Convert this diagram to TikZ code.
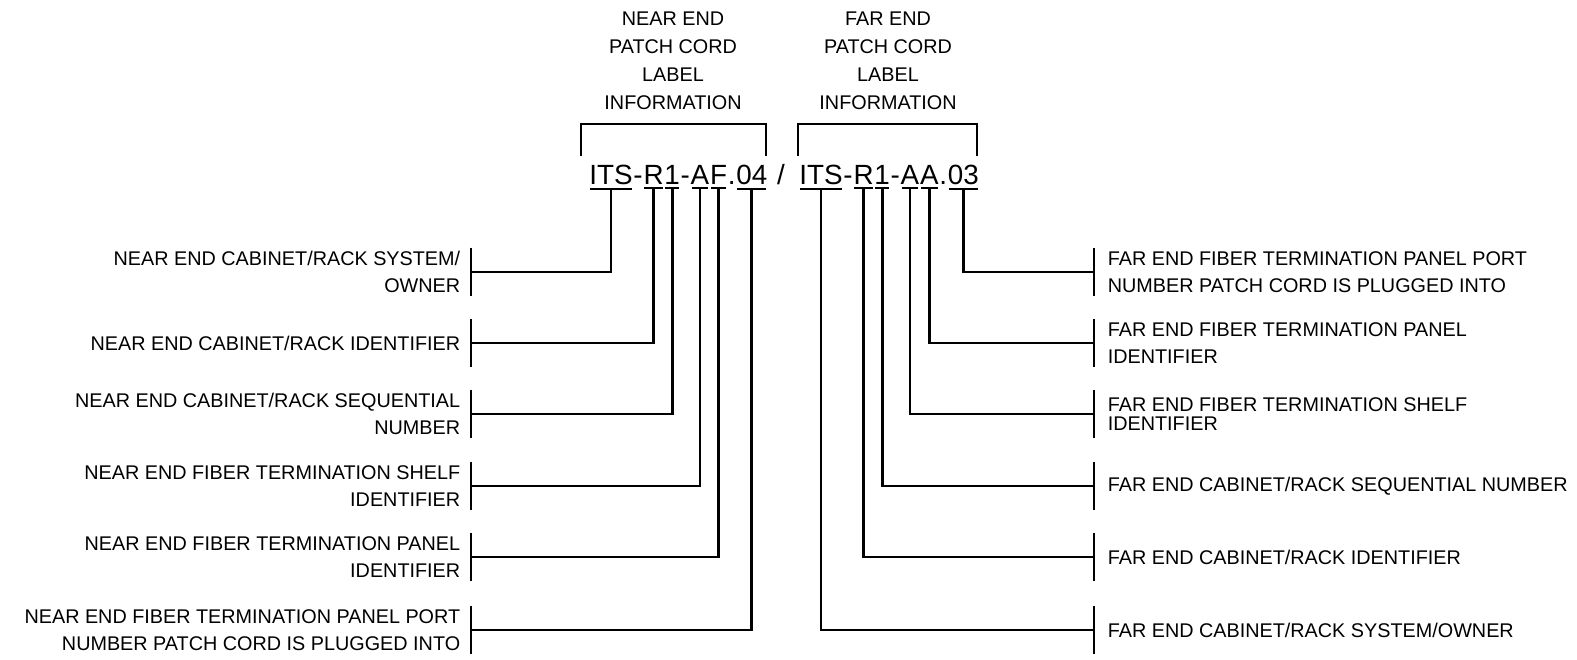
\documentclass[tikz,border=0pt]{standalone}
\usepackage{fontspec}
\setmainfont{Liberation Sans}
\usetikzlibrary{positioning}
\newcommand{\codefont}{\fontsize{13.9}{17}\selectfont}
\newcommand{\notefont}{\fontsize{9.9}{13.5}\selectfont}

\begin{document}
\begin{tikzpicture}[
    x=0.5pt, y=-0.5pt,
    seg/.style={inner sep=0pt, anchor=base west, font=\codefont},
    uline/.style={line width=1pt},
    wire/.style={line width=1.4pt},
    bar/.style={minimum height=24pt, minimum width=0pt, inner sep=0pt},
    leftnote/.style={anchor=east, align=right, inner sep=0pt, font=\notefont},
    rightnote/.style={anchor=west, align=left, inner sep=0pt, font=\notefont},
    head/.style={align=center, inner sep=0pt, font=\fontsize{9.9}{14}\selectfont}
]
\useasboundingbox (0,0) rectangle (1577,659);

% headings and brackets
\node[head] (hnear) at (673,61) {NEAR END\\PATCH CORD\\LABEL\\INFORMATION};
\node[head] (hfar) at (888,61) {FAR END\\PATCH CORD\\LABEL\\INFORMATION};
\draw[wire] (581,156) -- (581,124) -- (766,124) -- (766,156);
\draw[wire] (798,156) -- (798,124) -- (977,124) -- (977,156);

% near end label
\node[seg] (lits) at (589,184) {ITS};
\node[seg] (ld1) at (lits.base east) {-};
\node[seg] (lr) at (ld1.base east) {R};
\node[seg] (lone) at (lr.base east) {1};
\node[seg] (ld2) at (lone.base east) {-};
\node[seg] (la) at (ld2.base east) {A};
\node[seg] (lf) at (la.base east) {F};
\node[seg] (ldot) at (lf.base east) {.};
\node[seg] (lnum) at (ldot.base east) {04};
\node[seg, anchor=base] (slash) at (781,184) {/};
% far end label
\node[seg] (rits) at (799,184) {ITS};
\node[seg] (rd1) at (rits.base east) {-};
\node[seg] (rr) at (rd1.base east) {R};
\node[seg] (rone) at (rr.base east) {1};
\node[seg] (rd2) at (rone.base east) {-};
\node[seg] (ra1) at (rd2.base east) {A};
\node[seg] (ra2) at (ra1.base east) {A};
\node[seg] (rdot) at (ra2.base east) {.};
\node[seg] (rnum) at (rdot.base east) {03};

\foreach \n in {lits,lr,lone,la,lf,lnum,rits,rr,rone,ra1,ra2,rnum}
  \draw[uline] ([xshift=0.6pt,yshift=-2pt]\n.south west) -- ([xshift=-0.6pt,yshift=-2pt]\n.south east);

% near end notes
\node[bar] (lb1) at (471,272) {};
\node[bar] (lb2) at (471,343) {};
\node[bar] (lb3) at (471,414) {};
\node[bar] (lb4) at (471,486) {};
\node[bar] (lb5) at (471,557) {};
\node[bar] (lb6) at (471,630) {};
\node[leftnote, left=5pt of lb1] {NEAR END CABINET/RACK SYSTEM/\\OWNER};
\node[leftnote, left=5pt of lb2] {NEAR END CABINET/RACK IDENTIFIER};
\node[leftnote, left=5pt of lb3] {NEAR END CABINET/RACK SEQUENTIAL\\NUMBER};
\node[leftnote, left=5pt of lb4] {NEAR END FIBER TERMINATION SHELF\\IDENTIFIER};
\node[leftnote, left=5pt of lb5] {NEAR END FIBER TERMINATION PANEL\\IDENTIFIER};
\node[leftnote, left=5pt of lb6] {NEAR END FIBER TERMINATION PANEL PORT\\NUMBER PATCH CORD IS PLUGGED INTO};

% far end notes
\node[bar] (rb1) at (1094,272) {};
\node[bar] (rb2) at (1094,343) {};
\node[bar] (rb3) at (1094,414) {};
\node[bar] (rb4) at (1094,486) {};
\node[bar] (rb5) at (1094,557) {};
\node[bar] (rb6) at (1094,630) {};
\node[rightnote, right=6.5pt of rb1] {FAR END FIBER TERMINATION PANEL PORT\\NUMBER PATCH CORD IS PLUGGED INTO};
\node[rightnote, right=6.5pt of rb2] {FAR END FIBER TERMINATION PANEL\\IDENTIFIER};
\node[rightnote, right=6.5pt of rb3, font=\fontsize{9.9}{9.75}\selectfont] {FAR END FIBER TERMINATION SHELF\\IDENTIFIER};
\node[rightnote, right=6.5pt of rb4] {FAR END CABINET/RACK SEQUENTIAL NUMBER};
\node[rightnote, right=6.5pt of rb5] {FAR END CABINET/RACK IDENTIFIER};
\node[rightnote, right=6.5pt of rb6] {FAR END CABINET/RACK SYSTEM/OWNER};

\foreach \b in {lb1,lb2,lb3,lb4,lb5,lb6,rb1,rb2,rb3,rb4,rb5,rb6}
  \draw[wire] (\b.north) -- (\b.south);

% connectors
\draw[wire] ([yshift=-2pt]lits.south) |- (lb1);
\draw[wire] ([yshift=-2pt]lr.south) |- (lb2);
\draw[wire] ([yshift=-2pt]lone.south) |- (lb3);
\draw[wire] ([yshift=-2pt]la.south) |- (lb4);
\draw[wire] ([yshift=-2pt]lf.south) |- (lb5);
\draw[wire] ([yshift=-2pt]lnum.south) |- (lb6);
\draw[wire] ([yshift=-2pt]rnum.south) |- (rb1);
\draw[wire] ([yshift=-2pt]ra2.south) |- (rb2);
\draw[wire] ([yshift=-2pt]ra1.south) |- (rb3);
\draw[wire] ([yshift=-2pt]rone.south) |- (rb4);
\draw[wire] ([yshift=-2pt]rr.south) |- (rb5);
\draw[wire] ([yshift=-2pt]rits.south) |- (rb6);
\end{tikzpicture}
\end{document}
